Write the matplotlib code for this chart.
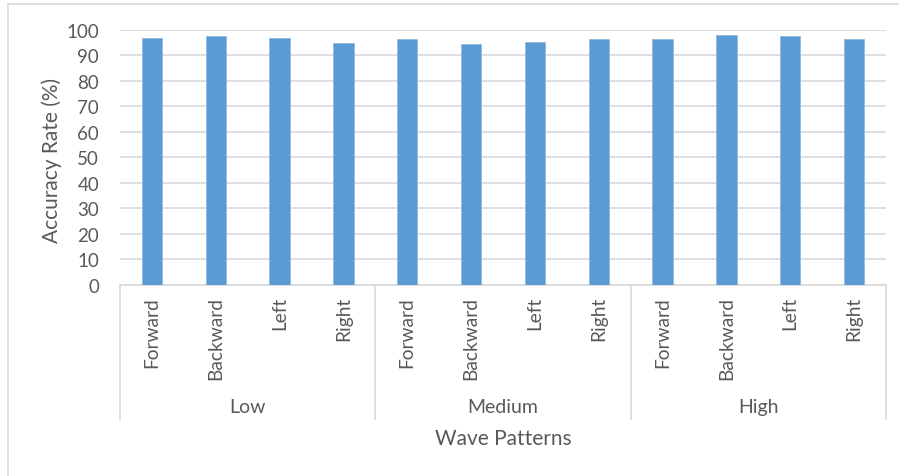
import matplotlib
matplotlib.use("Agg")
import matplotlib.pyplot as plt
from matplotlib.lines import Line2D

# Accuracy per wave direction, grouped by wave intensity
groups = ["Low", "Medium", "High"]
directions = ["Forward", "Backward", "Left", "Right"]
accuracy_low = [96.7, 97.4, 96.9, 94.8]
accuracy_medium = [96.5, 94.5, 95.3, 96.5]
accuracy_high = [96.5, 97.9, 97.4, 96.5]
y_ticks = [0, 10, 20, 30, 40, 50, 60, 70, 80, 90, 100]

values = accuracy_low + accuracy_medium + accuracy_high
labels = directions * len(groups)

plt.rcParams["font.family"] = ["Lato", "DejaVu Sans"]
TEXT = "#595959"
GRID = "#d9d9d9"
BAR = "#5B9BD5"

W, H = 899, 477
fig = plt.figure(figsize=(W / 100, H / 100), dpi=100)

x0, x1 = 120, 886
y_top, y_zero = 30.7, 286
ax = fig.add_axes([x0 / W, 1 - y_zero / H, (x1 - x0) / W, (y_zero - y_top) / H])

xs = list(range(len(values)))
ax.bar(xs, values, width=0.32, color=BAR, edgecolor="#8db9e3", linewidth=0.6, zorder=3)

ax.set_xlim(-0.5, len(values) - 0.5)
ax.set_ylim(0, 100)
ax.set_yticks(y_ticks)
ax.tick_params(axis="y", length=0, pad=15, labelsize=13.5, labelcolor=TEXT)
ax.yaxis.grid(True, color=GRID, linewidth=1.2, zorder=0)
ax.set_axisbelow(True)

for s in ["top", "right", "left"]:
    ax.spines[s].set_visible(False)
ax.spines["bottom"].set_color(GRID)
ax.spines["bottom"].set_linewidth(1.2)

ax.set_xticks(xs)
ax.set_xticklabels(labels, rotation=90, fontsize=13.8, color=TEXT, va="top", ha="center")
ax.tick_params(axis="x", length=0, pad=8)

# group separators and group names below the direction labels
axes_h = y_zero - y_top
sep_bottom = -(420 - y_zero) / axes_h
n = len(directions)
for k in range(len(groups) + 1):
    xb = k * n - 0.5
    ax.plot([xb, xb], [0, sep_bottom], color=GRID, linewidth=1.2,
            transform=ax.get_xaxis_transform(), clip_on=False)
for k, g in enumerate(groups):
    ax.text(k * n + (n - 1) / 2, -(408 - y_zero) / axes_h, g, ha="center", va="center",
            fontsize=14, color=TEXT, transform=ax.get_xaxis_transform())

fig.text((x0 + x1) / 2 / W, 1 - 439 / H, "Wave Patterns", ha="center", va="center",
         fontsize=15, color=TEXT)
fig.text(52 / W, 1 - 160 / H, "Accuracy Rate (%)", ha="center", va="center",
         rotation=90, fontsize=15, color=TEXT)

# chart frame edges
fig.add_artist(Line2D([8 / W, 8 / W], [0, 1 - 5 / H], color=GRID, linewidth=1.2))
fig.add_artist(Line2D([8 / W, 1], [1 - 5 / H, 1 - 5 / H], color=GRID, linewidth=1.2))

fig.savefig("out.png", dpi=100, facecolor="white")
